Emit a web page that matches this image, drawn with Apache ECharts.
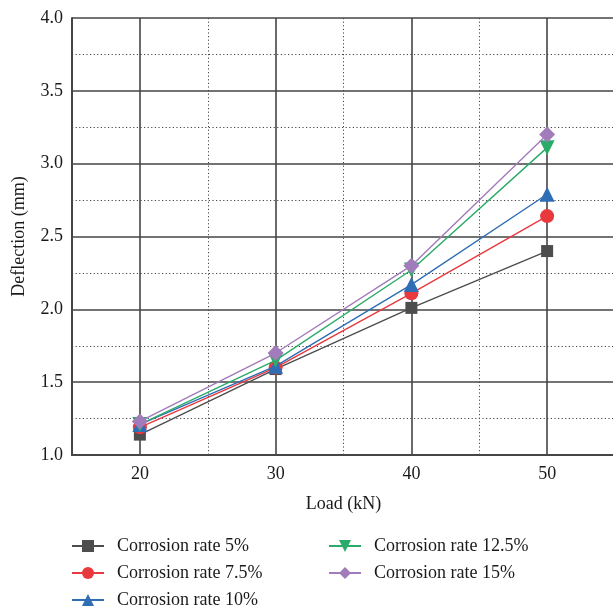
<!DOCTYPE html>
<html>
<head>
<meta charset="utf-8">
<script src="https://cdn.jsdelivr.net/npm/echarts@6/dist/echarts.min.js"></script>
<style>
  html, body { margin: 0; padding: 0; background: #fff; }
  #chart { width: 613px; height: 611px; }
</style>
</head>
<body>
<div id="chart"></div>
<script>
// Load steps (kN)
const loads = [20, 30, 40, 50];

// Mid-span deflection (mm) for each corrosion rate
const rate5 = [1.14, 1.59, 2.01, 2.40];
const rate75 = [1.19, 1.60, 2.11, 2.64];
const rate10 = [1.21, 1.61, 2.17, 2.79];
const rate125 = [1.21, 1.65, 2.27, 3.11];
const rate15 = [1.23, 1.70, 2.30, 3.20];

const seriesNames = ['Corrosion rate 5%', 'Corrosion rate 7.5%', 'Corrosion rate 10%', 'Corrosion rate 12.5%', 'Corrosion rate 15%'];
const seriesValues = [rate5, rate75, rate10, rate125, rate15];
const seriesColors = ['#4d4d4d', '#e8393f', '#2f6db5', '#2bab6a', '#a27bbb'];
const seriesSymbols = ['rect', 'circle', 'triangle', 'triangle', 'diamond'];
const symbolSizes = [12, 14, 15, 15, 16];
const symbolRotations = [0, 0, 0, 180, 0];

const yTickLabels = [1.0, 1.5, 2.0, 2.5, 3.0, 3.5, 4.0];
const xTickLabels = [20, 30, 40, 50];

const FONT = '"Liberation Serif", "DejaVu Serif", serif';
const GRID_DARK = '#454545';
const TEXT = '#1a1a1a';

const chart = echarts.init(document.getElementById('chart'));

const series = seriesNames.map((name, i) => ({
  name,
  type: 'line',
  xAxisIndex: 0,
  yAxisIndex: 0,
  data: loads.map((x, j) => [x, seriesValues[i][j]]),
  symbol: seriesSymbols[i],
  symbolSize: symbolSizes[i],
  symbolRotate: symbolRotations[i],
  showAllSymbol: true,
  lineStyle: { color: seriesColors[i], width: 1.4 },
  itemStyle: { color: seriesColors[i], borderWidth: 0 },
  emphasis: { disabled: true },
  z: 3 + i
}));

const legendCommon = {
  orient: 'vertical',
  height: 100,
  itemWidth: 32,
  itemHeight: 15,
  itemGap: 9,
  textStyle: { fontFamily: FONT, fontSize: 18, color: TEXT, padding: [0, 0, 0, 8] },
  selectedMode: false
};

chart.setOption({
  animation: false,
  backgroundColor: '#fff',
  grid: { left: 72, top: 18, width: 543, height: 437, containLabel: false, outerBoundsMode: 'none' },
  legend: [
    Object.assign({}, legendCommon, { left: 66, top: 532, data: seriesNames.slice(0, 3) }),
    Object.assign({}, legendCommon, { left: 323, top: 532, data: seriesNames.slice(3) })
  ],
  xAxis: [
    {
      type: 'value', min: 15, max: 55, interval: 5,
      name: 'Load (kN)', nameLocation: 'middle', nameGap: 40,
      nameTextStyle: { fontFamily: FONT, fontSize: 18, color: TEXT },
      axisLine: { show: true, onZero: false, lineStyle: { color: GRID_DARK, width: 2 } },
      axisTick: { show: false },
      axisLabel: {
        fontFamily: FONT, fontSize: 18, color: TEXT, margin: 10,
        formatter: v => (xTickLabels.indexOf(v) >= 0 ? String(v) : '')
      },
      splitLine: { show: true, lineStyle: { color: ['transparent', GRID_DARK], width: 1.6 } }
    },
    {
      type: 'value', min: 15, max: 55, interval: 5, position: 'bottom',
      axisLine: { show: false }, axisTick: { show: false }, axisLabel: { show: false },
      splitLine: { show: true, showMaxLine: false, lineStyle: { color: [GRID_DARK, 'transparent'], width: 1, type: [1.2, 2.4] } }
    }
  ],
  yAxis: [
    {
      type: 'value', min: 1, max: 4, interval: 0.25,
      name: 'Deflection (mm)', nameLocation: 'middle', nameGap: 44, nameRotate: 90,
      nameTextStyle: { fontFamily: FONT, fontSize: 18, color: TEXT },
      axisLine: { show: true, onZero: false, lineStyle: { color: GRID_DARK, width: 2 } },
      axisTick: { show: false },
      axisLabel: {
        fontFamily: FONT, fontSize: 18, color: TEXT, margin: 9,
        formatter: v => {
          const hit = yTickLabels.find(t => Math.abs(t - v) < 1e-9);
          return hit !== undefined ? hit.toFixed(1) : '';
        }
      },
      splitLine: { show: true, lineStyle: { color: [GRID_DARK, 'transparent'], width: 1.6 } }
    },
    {
      type: 'value', min: 1, max: 4, interval: 0.25, position: 'left',
      axisLine: { show: false }, axisTick: { show: false }, axisLabel: { show: false },
      splitLine: { show: true, lineStyle: { color: ['transparent', GRID_DARK], width: 1, type: [1.2, 2.4] } }
    }
  ],
  series
});
</script>
</body>
</html>
